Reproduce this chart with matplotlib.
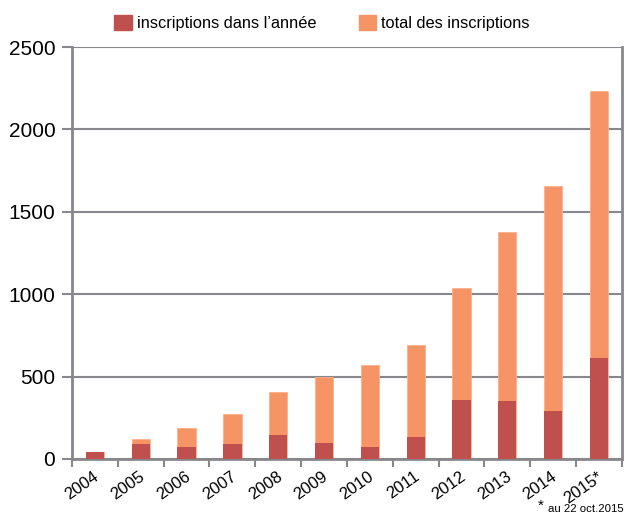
import numpy as np
import matplotlib.pyplot as plt
from matplotlib.patches import Patch
import matplotlib.transforms as mtransforms

years = ['2004', '2005', '2006', '2007', '2008', '2009', '2010',
         '2011', '2012', '2013', '2014', '2015*']
annee = [45, 88, 71, 91, 144, 99, 75, 132, 358, 350, 291, 610]
total = [45, 121, 188, 273, 407, 498, 570, 692, 1038, 1378, 1657, 2233]

red = '#c0504d'
orange = '#f79465'
grey = '#88888c'

plt.rcParams['font.family'] = ['Liberation Sans', 'DejaVu Sans']

fig = plt.figure(figsize=(6.25, 5.17), dpi=100)
ax = fig.add_axes([0.1152, 0.1122, 0.8798, 0.7968])

x = np.arange(len(years))
ax.bar(x, total, width=0.4, color=orange, edgecolor='#fbb08a', linewidth=0.6, zorder=2)
ax.bar(x, annee, width=0.4, color=red, zorder=3)

ax.set_xlim(-0.5, len(years) - 0.5)
ax.set_ylim(0, 2500)
ax.set_yticks([0, 500, 1000, 1500, 2000, 2500])
ax.yaxis.grid(True, color=grey, linewidth=1.5, zorder=1)
ax.tick_params(axis='y', labelsize=15, length=7, width=1.5, color=grey, pad=5)

# ticks between categories, labels at centres
ax.set_xticks(np.arange(-0.5, len(years), 1.0))
ax.set_xticklabels([])
ax.tick_params(axis='x', which='major', length=6, width=1.5, color=grey)
ax.set_xticks(x, minor=True)
ax.set_xticklabels(years, minor=True, rotation=35, ha='right', rotation_mode='anchor', fontsize=12)
ax.tick_params(axis='x', which='minor', length=0, pad=7)
offset = mtransforms.ScaledTranslation(-2 / 100, 0, fig.dpi_scale_trans)
for lab in ax.xaxis.get_minorticklabels():
    lab.set_transform(lab.get_transform() + offset)

for s in ['left', 'right', 'bottom']:
    ax.spines[s].set_color(grey)
    ax.spines[s].set_linewidth(2)
ax.spines['top'].set_visible(False)

handles = [Patch(color=red, label='inscriptions dans l\u2019ann\u00e9e'),
           Patch(color=orange, label='total des inscriptions')]
fig.legend(handles=handles, loc='upper center', bbox_to_anchor=(0.515, 1.0), ncol=2,
           frameon=False, fontsize=11.8, handlelength=1.05, handleheight=1.1,
           handletextpad=0.3, columnspacing=2.6)

# footnote for the 2015 value
fig.text(0.861, 0.013, '*', fontsize=11, ha='left', va='baseline')
fig.text(0.877, 0.01, 'au 22 oct.2015', fontsize=8.2, ha='left', va='baseline')

fig.savefig('out.png', dpi=100)
